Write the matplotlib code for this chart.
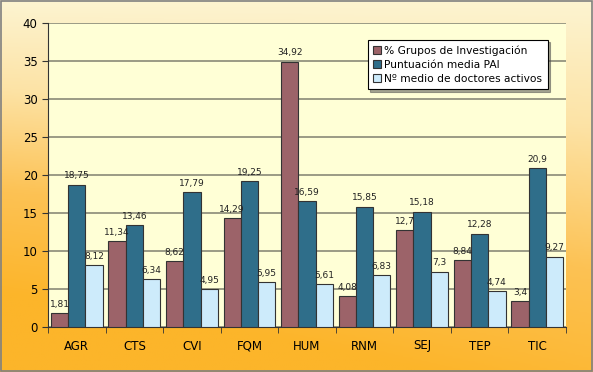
import numpy as np
import matplotlib
matplotlib.use("Agg")
import matplotlib.pyplot as plt
from matplotlib.colors import LinearSegmentedColormap

categories = ["AGR", "CTS", "CVI", "FQM", "HUM", "RNM", "SEJ", "TEP", "TIC"]
grupos = [1.81, 11.34, 8.62, 14.29, 34.92, 4.08, 12.7, 8.84, 3.4]
pai = [18.75, 13.46, 17.79, 19.25, 16.59, 15.85, 15.18, 12.28, 20.9]
doctores = [8.12, 6.34, 4.95, 5.95, 5.61, 6.83, 7.3, 4.74, 9.27]
series_names = ["% Grupos de Investigación", "Puntuación media PAI", "Nº medio de doctores activos"]
colors = ["#9C6369", "#2F6E8A", "#CDEBFB"]

fig = plt.figure(figsize=(5.93, 3.72), dpi=100)

# background gradient
bg = fig.add_axes([0, 0, 1, 1], zorder=-10)
ny, nx = 200, 300
yy, xx = np.mgrid[0:1:ny*1j, 0:1:nx*1j]
t = np.clip(0.85 * yy + 0.35 * (1 - xx) * yy + 0.05, 0, 1)
cmap = LinearSegmentedColormap.from_list("bg", ["#FDF7D8", "#FCE3A6", "#FDC254", "#FCB52A"])
bg.imshow(t, cmap=cmap, aspect="auto", extent=[0, 1, 0, 1], origin="upper", vmin=0, vmax=1)
bg.set_xlim(0, 1); bg.set_ylim(0, 1)
bg.axis("off")
bg.add_patch(plt.Rectangle((0.001, 0.002), 0.997, 0.995, fill=False, edgecolor="#808080", lw=1.2))

ax = fig.add_axes([48/593, 45/372, 518/593, 304/372])
ax.set_facecolor("#FFFFD6")
x = np.arange(len(categories))
w = 0.3
for i, (vals, col, name) in enumerate(zip([grupos, pai, doctores], colors, series_names)):
    pos = x + (i - 1) * w
    ax.bar(pos, vals, width=w, color=col, edgecolor="#333333", linewidth=0.8, label=name, zorder=3)
    for p, v in zip(pos, vals):
        ax.text(p, v + 0.55, f"{v:g}".replace(".", ","), ha="center", va="bottom", fontsize=6.5, color="#222222", zorder=4)

ax.set_xlim(-0.5, len(categories) - 0.5)
ax.set_ylim(0, 40)
ax.set_yticks(range(0, 41, 5))
ax.yaxis.grid(True, color="#8A8A78", linewidth=1.2, zorder=0)
ax.set_axisbelow(True)
ax.set_xticks(x)
ax.set_xticklabels(categories, fontsize=8.5)
ax.set_xticks(np.arange(-0.5, len(categories), 1), minor=True)
ax.tick_params(axis="x", which="major", length=0, pad=9)
ax.tick_params(axis="x", which="minor", length=4, color="#333333")
ax.tick_params(axis="y", labelsize=8.5, length=4, color="#333333")
for s in ["top", "right"]:
    ax.spines[s].set_visible(False)
ax.spines["left"].set_color("#333333")
ax.spines["bottom"].set_color("#333333")

leg = ax.legend(loc="upper left", bbox_to_anchor=(0.617, 0.945), fontsize=7.7, frameon=True,
                fancybox=False, shadow=True, handlelength=0.75, handleheight=0.75, handletextpad=0.3,
                borderpad=0.5, labelspacing=0.4, borderaxespad=0)
leg.get_frame().set_edgecolor("black")
leg.get_frame().set_linewidth(0.8)
leg.get_frame().set_facecolor("white")
leg.get_frame().set_alpha(1)

fig.savefig("out.png", dpi=100)
